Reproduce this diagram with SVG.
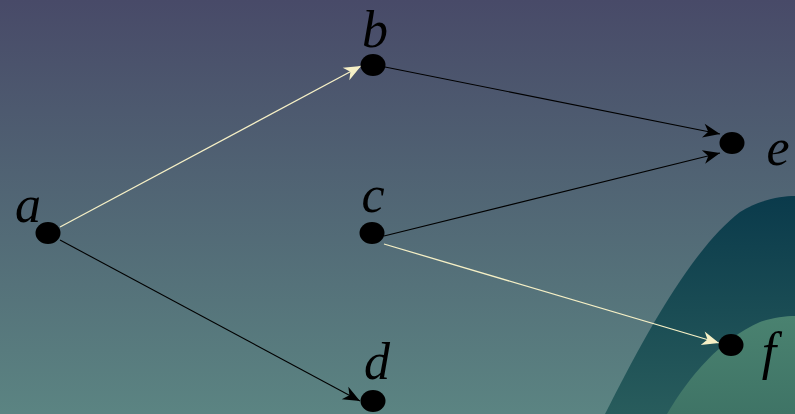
<svg xmlns="http://www.w3.org/2000/svg" width="795" height="414" viewBox="0 0 795 414">
<defs>
<linearGradient id="bg" x1="0" y1="0" x2="0" y2="1">
<stop offset="0" stop-color="#484a68"/>
<stop offset="1" stop-color="#5b8482"/>
</linearGradient>
<linearGradient id="hill1" x1="0" y1="0" x2="0" y2="1">
<stop offset="0" stop-color="#0a3a4b"/>
<stop offset="1" stop-color="#285c5c"/>
</linearGradient>
<linearGradient id="hill2" x1="0" y1="0" x2="0" y2="1">
<stop offset="0" stop-color="#4a8270"/>
<stop offset="1" stop-color="#3f7466"/>
</linearGradient>
<marker id="ab" markerUnits="userSpaceOnUse" markerWidth="20" markerHeight="16" viewBox="-17 -8 18 16" refX="0" refY="0" orient="auto">
<path d="M0,0 L-17,-7 L-12,0 L-17,7 Z" fill="#000"/>
</marker>
<marker id="ac" markerUnits="userSpaceOnUse" markerWidth="20" markerHeight="16" viewBox="-17 -8 18 16" refX="0" refY="0" orient="auto">
<path d="M0,0 L-17,-7 L-12,0 L-17,7 Z" fill="#f6f0c6"/>
</marker>
<style>
.node{fill:#000}
.lbl{font-family:'Liberation Serif',serif;font-style:italic;font-weight:normal;font-size:52px;fill:#000;text-anchor:middle}
.eb{stroke:#000;stroke-width:1.1;fill:none;marker-end:url(#ab)}
.ec{stroke:#f6f0c6;stroke-width:1.3;fill:none;marker-end:url(#ac)}
</style>
</defs>
<rect x="0" y="0" width="795" height="414" fill="url(#bg)"/>
<path d="M605,414 C640,345 690,250 740,212 C760,200 780,196 795,196 L795,414 Z" fill="url(#hill1)"/>
<path d="M667,414 C690,375 720,340 760,322 C772,318 785,316 795,316 L795,414 Z" fill="url(#hill2)"/>
<g id="connectors">
<line class="ec" x1="60" y1="227" x2="361" y2="66"/>
<line class="eb" x1="60" y1="240" x2="360" y2="401"/>
<line class="eb" x1="385" y1="67" x2="720" y2="134"/>
<line class="eb" x1="384" y1="236" x2="720" y2="153"/>
<line class="ec" x1="384" y1="244" x2="719" y2="343"/>
</g>
<g id="a"><ellipse class="node" cx="48" cy="233" rx="12.5" ry="11"/><text class="lbl" x="28" y="222">a</text></g>
<g id="b"><ellipse class="node" cx="373" cy="65" rx="12.5" ry="11"/><text class="lbl" x="375" y="47">b</text></g>
<g id="c"><ellipse class="node" cx="372" cy="233" rx="12.5" ry="11"/><text class="lbl" x="373" y="212">c</text></g>
<g id="d"><ellipse class="node" cx="373" cy="401" rx="12.5" ry="11"/><text class="lbl" x="377" y="379">d</text></g>
<g id="e"><ellipse class="node" cx="732" cy="143" rx="12.5" ry="11"/><text class="lbl" x="778" y="165">e</text></g>
<g id="f"><ellipse class="node" cx="731" cy="345" rx="12.5" ry="11"/><text class="lbl" x="769" y="369">f</text></g>
</svg>
